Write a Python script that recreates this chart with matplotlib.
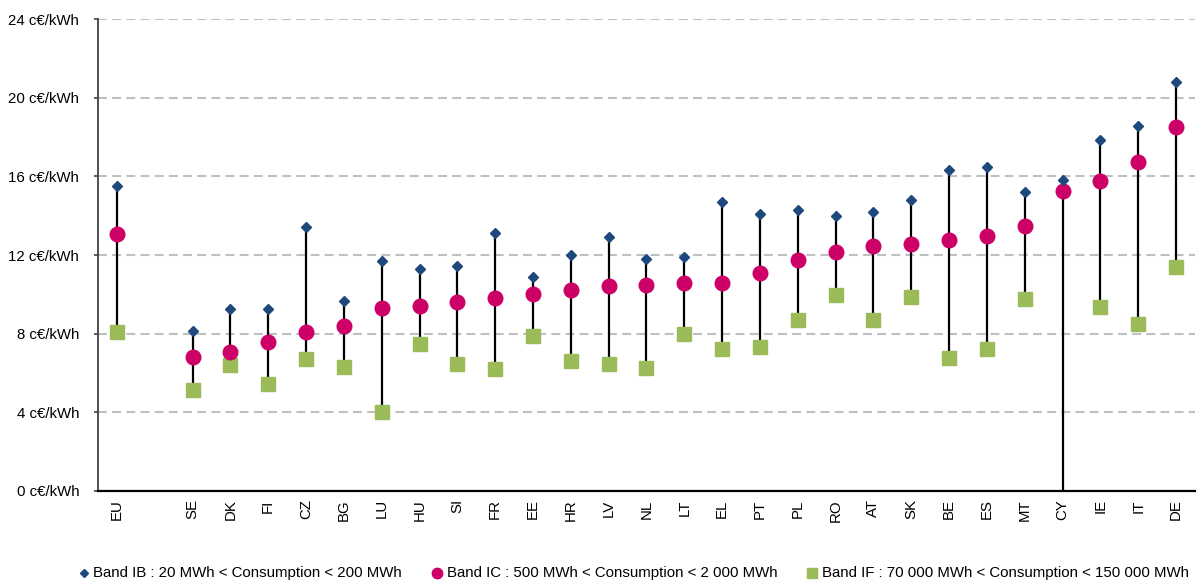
import numpy as np
import matplotlib
matplotlib.use("Agg")
import matplotlib.pyplot as plt
from matplotlib.lines import Line2D

# Country codes; the empty slot separates the EU average from the member states
countries = ["EU", "", "SE", "DK", "FI", "CZ", "BG", "LU", "HU", "SI", "FR", "EE",
             "HR", "LV", "NL", "LT", "EL", "PT", "PL", "RO", "AT", "SK", "BE",
             "ES", "MT", "CY", "IE", "IT", "DE"]

# Prices in c€/kWh per consumption band (None = no value reported)
band_ib = [15.5, None, 8.15, 9.25, 9.25, 13.4, 9.65, 11.7, 11.3, 11.45, 13.1, 10.9,
           12.0, 12.9, 11.8, 11.9, 14.7, 14.1, 14.3, 14.0, 14.2, 14.8, 16.3,
           16.45, 15.2, 15.8, 17.85, 18.55, 20.8]
band_ic = [13.05, None, 6.8, 7.05, 7.6, 8.1, 8.4, 9.3, 9.4, 9.6, 9.8, 10.0,
           10.2, 10.4, 10.5, 10.6, 10.6, 11.1, 11.75, 12.15, 12.45, 12.55, 12.75,
           12.95, 13.45, 15.25, 15.75, 16.75, 18.5]
band_if = [8.1, None, 5.15, 6.4, 5.45, 6.7, 6.3, 4.0, 7.5, 6.45, 6.2, 7.9,
           6.6, 6.45, 6.25, 8.0, 7.2, 7.3, 8.7, 9.95, 8.7, 9.85, 6.75,
           7.2, 9.75, None, 9.35, 8.5, 11.4]

y_ticks = [0, 4, 8, 12, 16, 20, 24]
legend_labels = ["Band IB : 20 MWh < Consumption < 200 MWh",
                 "Band IC : 500 MWh < Consumption < 2 000 MWh",
                 "Band IF : 70 000 MWh < Consumption < 150 000 MWh"]

C_IB = "#1F497D"
C_IC = "#CC0066"
C_IF = "#9BBB59"

plt.rcParams["font.family"] = ["Liberation Sans", "DejaVu Sans"]
FS = 10.8

def arr(v):
    return np.array([np.nan if x is None else x for x in v], dtype=float)

ib, ic, lf = arr(band_ib), arr(band_ic), arr(band_if)
x = np.arange(len(countries))

W, H = 1198, 583
fig = plt.figure(figsize=(W / 100, H / 100), dpi=100)
ax = fig.add_axes([98 / W, 1 - 491 / H, 1097 / W, 472 / H])

# High-low connector: from band IB down to band IF (to the baseline when IF is missing)
has = ~np.isnan(ib)
low = np.where(np.isnan(lf), 0.0, lf)
ax.vlines(x[has], low[has], ib[has], color="black", lw=1.6, zorder=2)

ax.plot(x, lf, ls="none", marker="s", ms=10, color=C_IF, mec=C_IF, zorder=3)
ax.plot(x, ic, ls="none", marker="o", ms=10.5, color=C_IC, mec=C_IC, zorder=4)
ax.plot(x, ib, ls="none", marker="D", ms=5.2, color=C_IB, mec=C_IB, zorder=5)

ax.set_xlim(-0.5, len(countries) - 0.5)
ax.set_ylim(0, 24)
ax.set_yticks(y_ticks)
ax.set_yticklabels([f"{v} c€/kWh" for v in y_ticks], fontsize=FS)
ax.set_xticks(x)
ax.set_xticklabels(countries, rotation=90, fontsize=FS)

ax.tick_params(axis="x", length=0, pad=6)
ax.tick_params(axis="y", length=3, width=1.2, color="#404040", pad=10.5)

for v in y_ticks[1:]:
    ax.axhline(v, color="#C0C0C0", lw=1.5, ls=(0, (4.3, 2.5)), zorder=1)

for s in ("top", "right"):
    ax.spines[s].set_visible(False)
ax.spines["left"].set_color("#404040")
ax.spines["left"].set_linewidth(1.3)
ax.spines["bottom"].set_color("black")
ax.spines["bottom"].set_linewidth(1.6)

# Legend row along the bottom of the figure
leg_y = 1 - 573 / H
items = [("D", 4.2, C_IB, 84, 93), ("o", 7.5, C_IC, 437, 447), ("s", 7.5, C_IF, 812, 822)]
for (m, ms, c, mx, tx), label in zip(items, legend_labels):
    fig.add_artist(Line2D([mx / W], [leg_y], ls="none", marker=m, ms=ms, color=c,
                          transform=fig.transFigure))
    fig.text(tx / W, leg_y, label, fontsize=FS, ha="left", va="center")

fig.savefig("out.png", dpi=100)
